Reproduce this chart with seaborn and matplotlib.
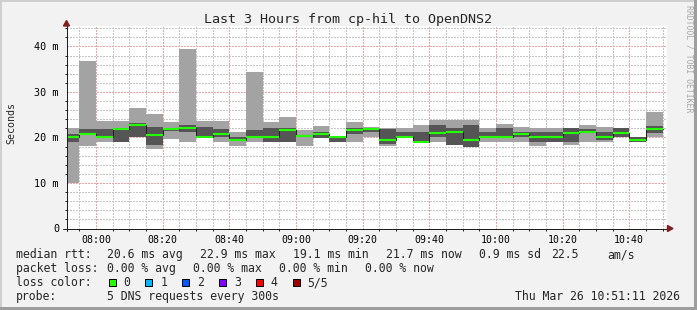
import numpy as np
import pandas as pd
import matplotlib
matplotlib.use("Agg")
import matplotlib.pyplot as plt
import seaborn as sns
from matplotlib.patches import Rectangle, Polygon
from matplotlib.transforms import IdentityTransform
from matplotlib.ticker import FixedLocator, MultipleLocator, FixedFormatter

sns.set_style("white")
plt.rcParams["font.family"] = ["DejaVu Sans Mono", "DejaVu Sans"]

# ---------------- data ----------------
title = "Last 3 Hours from cp-hil to OpenDNS2"
y_label = "Seconds"
watermark = "RRDTOOL / TOBI OETIKER"
bin_start = pd.date_range("2026-03-26 07:50", periods=36, freq="5min")
view_start = pd.Timestamp("2026-03-26 07:51:11")
view_end = pd.Timestamp("2026-03-26 10:51:11")
bin_minutes = 5

light_lo = [10.1, 18.2, 19.1, 19.1, 20.0, 17.4, 19.6, 19.1, 20.0, 19.1, 18.2, 18.9,
            18.9, 19.1, 18.2, 19.9, 19.1, 19.1, 20.1, 18.2, 20.1, 19.1, 19.1, 18.3,
            18.0, 18.9, 19.1, 19.1, 18.2, 18.9, 18.3, 18.9, 19.1, 20.0, 19.1, 20.0]
light_hi = [22.1, 36.7, 23.7, 23.7, 26.5, 25.2, 23.3, 39.5, 23.7, 23.7, 21.3, 34.5,
            23.5, 24.6, 21.7, 22.6, 20.2, 23.5, 22.3, 22.0, 22.0, 22.8, 23.9, 23.9,
            23.9, 22.1, 23.0, 22.2, 22.0, 22.1, 22.1, 22.8, 22.2, 22.0, 20.2, 25.5]
dark_lo = [19.1, 20.8, 20.0, 19.1, 20.0, 18.3, 21.5, 21.1, 20.0, 20.1, 19.4, 20.1,
           19.1, 19.1, 20.0, 19.9, 19.1, 20.8, 21.2, 18.6, 20.1, 19.1, 20.0, 18.3,
           18.0, 20.0, 20.0, 20.1, 19.1, 18.9, 19.1, 21.1, 19.4, 20.0, 19.1, 20.9]
dark_hi = [20.8, 21.9, 21.9, 21.9, 23.1, 22.2, 22.0, 22.8, 22.2, 21.9, 20.2, 21.7,
           22.0, 22.0, 20.6, 21.3, 20.2, 22.0, 22.0, 21.9, 21.1, 21.1, 22.8, 22.1,
           22.8, 21.3, 22.0, 21.2, 21.1, 21.1, 22.1, 21.9, 21.1, 22.0, 20.2, 22.6]
median = [20.1, 20.8, 20.2, 21.8, 22.8, 20.5, 21.8, 22.0, 20.2, 20.8, 19.4, 20.1,
          20.1, 21.7, 20.4, 20.8, 20.2, 21.7, 21.9, 19.4, 20.1, 19.1, 20.9, 21.1,
          19.4, 20.0, 20.0, 20.8, 20.2, 20.0, 20.9, 21.1, 20.2, 20.9, 19.4, 21.8]

y_ticks = [0, 10, 20, 30, 40]
y_tick_labels = ["0", "10 m", "20 m", "30 m", "40 m"]
y_max = 44.5
x_tick_labels = ["08:00", "08:20", "08:40", "09:00", "09:20", "09:40", "10:00", "10:20", "10:40"]

stats_rtt = ["median rtt:", "20.6 ms avg", "22.9 ms max", "19.1 ms min", "21.7 ms now",
             "0.9 ms sd", "22.5", "am/s"]
stats_loss = ["packet loss:", "0.00 % avg", "0.00 % max", "0.00 % min", "0.00 % now"]
loss_names = ["0", "1", "2", "3", "4", "5/5"]
loss_colors = ["#26ff00", "#00b8ff", "#0059ff", "#7e00ff", "#ff0000", "#a10000"]
probe_text = "5 DNS requests every 300s"
stamp = "Thu Mar 26 10:51:11 2026"

# ---------------- layout ----------------
W, H = 697, 310
BG = "#f2f2f2"
fig = plt.figure(figsize=(W / 100, H / 100), dpi=100, facecolor=BG)
L, R, T, B = 66.5, 666.5, 26.0, 228.5
ax = fig.add_axes([L / W, 1 - B / H, (R - L) / W, (B - T) / H])
ax.set_facecolor("white")

day0 = pd.Timestamp("2026-03-26 00:00")
to_min = lambda t: (pd.Timestamp(t) - day0) / pd.Timedelta(minutes=1)
x = np.array([to_min(t) for t in bin_start])

ll, lh = np.array(light_lo), np.array(light_hi)
dl, dh = np.array(dark_lo), np.array(dark_hi)
med = np.array(median)

ax.bar(x, lh - ll, bottom=ll, width=bin_minutes, align="edge",
       color="#a3a3a3", linewidth=0, zorder=2)
ax.bar(x, dh - dl, bottom=dl, width=bin_minutes, align="edge",
       color="#555555", linewidth=0, zorder=3)

step_df = pd.DataFrame({"t": np.append(x, x[-1] + bin_minutes),
                        "v": np.append(med, med[-1])})
sns.lineplot(data=step_df, x="t", y="v", ax=ax, drawstyle="steps-post",
             color="#202020", linewidth=0.72, estimator=None, sort=False, zorder=4)
ax.hlines(med, x, x + bin_minutes, colors="#22ff00", linewidth=1.5, zorder=5)

ax.set_xlim(to_min(view_start), to_min(view_end))
ax.set_ylim(0, y_max)
ax.set_xlabel("")
ax.set_ylabel("")

x_major = [to_min(pd.Timestamp("2026-03-26 " + s)) for s in x_tick_labels]
ax.xaxis.set_major_locator(FixedLocator(x_major))
ax.xaxis.set_major_formatter(FixedFormatter(x_tick_labels))
ax.xaxis.set_minor_locator(MultipleLocator(5))
ax.yaxis.set_major_locator(FixedLocator(y_ticks))
ax.yaxis.set_major_formatter(FixedFormatter(y_tick_labels))
ax.yaxis.set_minor_locator(MultipleLocator(2))

grid_minor = "#c6c6c6"
grid_major = "#f0a4a4"
ax.grid(True, which="minor", color=grid_minor, linestyle=(0, (2, 2)), linewidth=0.72,
        zorder=0, antialiased=False)
ax.grid(True, which="major", color=grid_major, linestyle=(0, (2, 2)), linewidth=0.72,
        zorder=0, antialiased=False)
ax.set_axisbelow(True)

for s in ["top", "right"]:
    ax.spines[s].set_visible(False)
for s in ["left", "bottom"]:
    ax.spines[s].set_color("#1f1f1f")
    ax.spines[s].set_linewidth(0.72)
    ax.spines[s].set_zorder(6)

ax.tick_params(which="major", length=2.2, width=0.72, color="#1f1f1f", direction="out")
ax.tick_params(which="minor", length=1.44, width=0.72, color="#1f1f1f", direction="out")
ax.tick_params(axis="x", which="major", pad=2.2, labelsize=7.1, labelcolor="black")
ax.tick_params(axis="y", which="major", pad=3.2, labelsize=7.3, labelcolor="black")
ax.tick_params(axis="both", which="minor", bottom=True, left=True)

# pixel helpers (display coordinates, origin bottom-left)
ID = IdentityTransform()
def P(px, py):
    return (px, H - py)

# axis extensions and arrows
ext_col = "#1f1f1f"
fig.add_artist(plt.Line2D([L, L], [H - B - 2, H - 22], transform=ID, color=ext_col, lw=0.72, zorder=6))
fig.add_artist(plt.Line2D([L - 4, 670], [H - B] * 2, transform=ID, color=ext_col, lw=0.72, zorder=6))
arrow_col = "#801f1f"
fig.add_artist(Polygon([P(L - 3, 26.0), P(L + 3, 26.0), P(L, 20.5)], closed=True,
                       transform=ID, color=arrow_col, zorder=7))
fig.add_artist(Polygon([P(667.5, B - 3), P(667.5, B + 3), P(673, B)], closed=True,
                       transform=ID, color=arrow_col, zorder=7))

# frame (3D shading)
fig.add_artist(Rectangle((0, H - 2), W, 2, transform=ID, color="#cfcfcf", lw=0))
fig.add_artist(Rectangle((0, 0), 2, H, transform=ID, color="#cfcfcf", lw=0))
fig.add_artist(Rectangle((0, 0), W, 3, transform=ID, color="#9e9e9e", lw=0))
fig.add_artist(Rectangle((W - 3, 0), 3, H, transform=ID, color="#9e9e9e", lw=0))

def ftext(px, py, s, **kw):
    kw.setdefault("va", "baseline")
    kw.setdefault("ha", "left")
    fig.text(px / W, 1 - py / H, s, **kw)

ftext(348.5, 23.5, title, ha="center", fontsize=9.6)
ftext(11, 122.7, y_label, ha="center", va="center", rotation=90, fontsize=7.2)
ftext(688.5, 59, watermark, ha="center", va="center", rotation=270, fontsize=5.9, color="#a8a8a8")

LF = 8.3
rtt_x = [16, 107.3, 200.3, 293.3, 386.3, 479.3, 551.3, 607]
for xx, s in zip(rtt_x, stats_rtt):
    ftext(xx, 258.3, s, fontsize=LF)
loss_x = [16, 107.3, 193.3, 279.3, 365.3]
for xx, s in zip(loss_x, stats_loss):
    ftext(xx, 272.3, s, fontsize=LF)
ftext(16, 286.3, "loss color:", fontsize=LF)
for i, (nm, c) in enumerate(zip(loss_names, loss_colors)):
    bx = 108.5 + i * 36.85
    fig.add_artist(Rectangle(P(bx, 286.0), 7, 7, transform=ID, facecolor=c,
                             edgecolor="black", lw=0.72))
    ftext(bx + 14.8, 286.3, nm, fontsize=LF)
ftext(16, 300.3, "probe:", fontsize=LF)
ftext(107.3, 300.3, probe_text, fontsize=LF)
ftext(680, 300.3, stamp, ha="right", fontsize=LF)

fig.savefig("out.png", dpi=100, facecolor=BG)
